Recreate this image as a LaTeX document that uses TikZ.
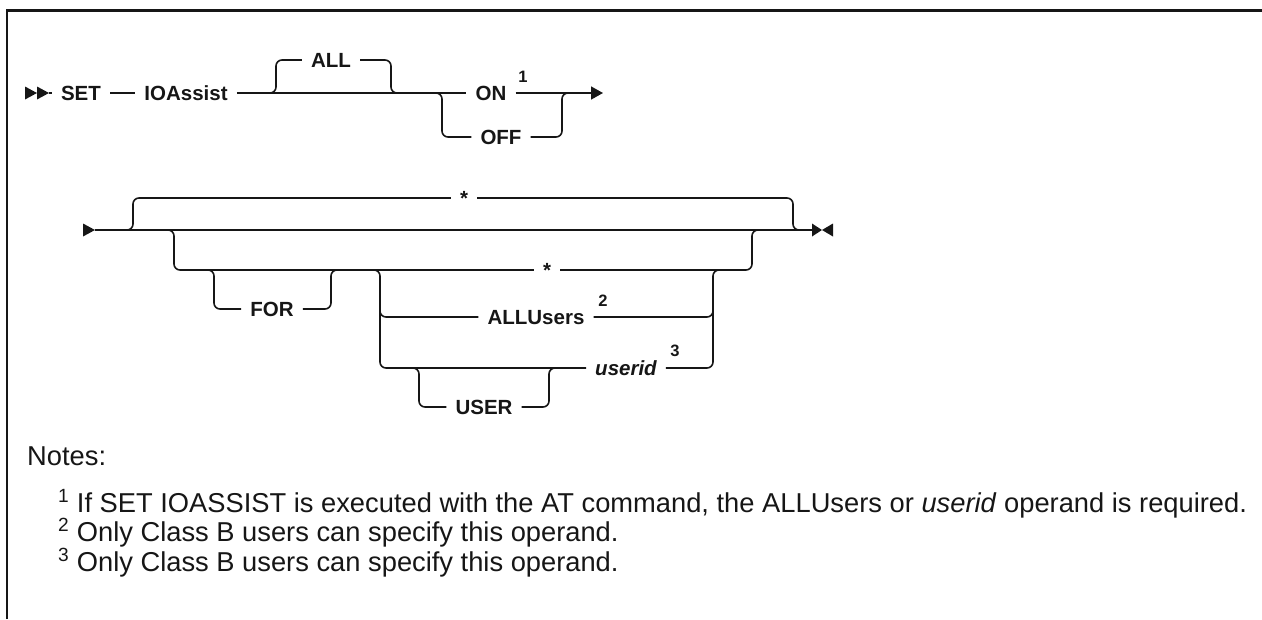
\documentclass[tikz,border=0pt]{standalone}
\usepackage{fontspec}
\setmainfont{Liberation Sans}
\usetikzlibrary{arrows.meta}
\definecolor{Ink}{HTML}{161616}
\tikzset{
  rail/.style={draw=Ink, line width=1.6pt, rounded corners=6pt},
  keyword/.style={font=\bfseries\fontsize{20.5}{25}\selectfont, text=Ink,
    inner xsep=9pt, inner ysep=0pt, text height=14.7pt, text depth=0pt},
  operand/.style={keyword, font=\bfseries\itshape\fontsize{20.5}{25}\selectfont},
  fnmark/.style={font=\bfseries\fontsize{16.5}{20}\selectfont, text=Ink, inner sep=0pt},
  noteline/.style={font=\fontsize{27.3}{32}\selectfont, text=Ink, anchor=base west, inner sep=0pt}
}
\begin{document}
\begin{tikzpicture}[x=1pt, y=-1pt]
  \useasboundingbox (0,0) rectangle (1262,619);
  % frame
  \draw[Ink, line width=2.6pt] (7,619) -- (7,10.5) -- (1262,10.5);

  % first line
  \coordinate (head) at (25,93);
  \coordinate (head2) at (49,93);
  \fill[Ink] (head) ++(0,-6.5) -- ++(12,6.5) -- ++(-12,6.5) -- cycle;
  \fill[Ink] (head) ++(12,-6.5) -- ++(12,6.5) -- ++(-12,6.5) -- cycle;
  \node[keyword] (set) at (81,93) {SET};
  \node[keyword] (ioassist) at (186,93) {IOAssist};
  \node[keyword] (all) at (331,60) {ALL};
  \node[keyword] (on) at (491,93) {ON};
  \node[fnmark] (fn1) at (523,77) {1};
  \node[keyword] (off) at (501,137) {OFF};
  \coordinate (allL) at (268,93);
  \coordinate (allR) at (400,93);
  \coordinate (offL) at (433,93);
  \coordinate (offR) at (571,93);
  \coordinate (arr1) at (603,93);
  \draw[rail] (head2) -- (set.west);
  \draw[rail] (set.east) -- (ioassist.west);
  \draw[rail] (ioassist.east) -- (on.west);
  \draw[rail] (allL) -- ++(8,0) |- (all.west);
  \draw[rail] (all.east) -| ([xshift=-9pt]allR) -- (allR);
  \draw[rail] (offL) -- ++(9,0) |- (off.west);
  \draw[rail] (off.east) -| ([xshift=-9pt]offR) -- (offR);
  \draw[rail, -{Triangle[length=12pt,width=13pt]}] (on.east) -- (arr1);

  % second line
  \coordinate (tail) at (83,230);
  \coordinate (tail2) at (95,230);
  \coordinate (stop) at (812,230);
  \fill[Ink] (tail) ++(0,-6.5) -- ++(12,6.5) -- ++(-12,6.5) -- cycle;
  \fill[Ink] (stop) ++(0,-6.5) -- ++(10,6.5) -- ++(-10,6.5) -- cycle;
  \fill[Ink] (stop) ++(21,-6.5) -- ++(-11,6.5) -- ++(11,6.5) -- cycle;
  \draw[rail] (tail2) -- (stop);

  \node[keyword] (dflt) at (464,198) {*};
  \coordinate (dfltL) at (124,230);
  \coordinate (dfltR) at (802,230);
  \draw[rail] (dfltL) -- ++(9,0) |- (dflt.west);
  \draw[rail] (dflt.east) -| ([xshift=-9pt]dfltR) -- (dfltR);

  \node[keyword] (who) at (547,270) {*};
  \coordinate (forkL) at (165,230);
  \coordinate (forkR) at (762,230);
  \draw[rail] (forkL) -- ++(9,0) |- (who.west);
  \draw[rail] (who.east) -| ([xshift=-10pt]forkR) -- (forkR);

  \node[keyword] (for) at (272,309) {FOR};
  \coordinate (forL) at (205,270);
  \coordinate (forR) at (340,270);
  \draw[rail] (forL) -- ++(9,0) |- (for.west);
  \draw[rail] (for.east) -| ([xshift=-9pt]forR) -- (forR);

  \node[keyword] (allusers) at (536,317) {ALLUsers};
  \node[fnmark] (fn2) at (603,301) {2};
  \node[operand] (userid) at (626,368) {userid};
  \node[fnmark] (fn3) at (675,351) {3};
  \node[keyword] (user) at (484,407) {USER};
  \coordinate (grpL) at (371,270);
  \coordinate (grpR) at (722,270);
  \coordinate (grpV) at (380,300);
  \draw[rail] (grpL) -- ++(9,0) |- (userid.west);
  \draw[rail] (grpV) |- (allusers.west);
  \draw[rail] (userid.east) -| ([xshift=-9pt]grpR) -- (grpR);
  \draw[rail] (allusers.east) -| ([xshift=-9pt,yshift=-20pt]grpR);

  \coordinate (userL) at (410,368);
  \coordinate (userR) at (558,368);
  \draw[rail] (userL) -- ++(9,0) |- (user.west);
  \draw[rail] (user.east) -| ([xshift=-9pt]userR) -- (userR);

  % notes
  \node[noteline] (notes) at (27,465) {Notes:};
  \node[noteline] (note1) at (58,512) {\textsuperscript{1} If SET IOASSIST is executed with the AT command, the ALLUsers or \textit{userid} operand is required.};
  \node[noteline] (note2) at (58,541) {\textsuperscript{2} Only Class B users can specify this operand.};
  \node[noteline] (note3) at (58,571) {\textsuperscript{3} Only Class B users can specify this operand.};
\end{tikzpicture}
\end{document}
